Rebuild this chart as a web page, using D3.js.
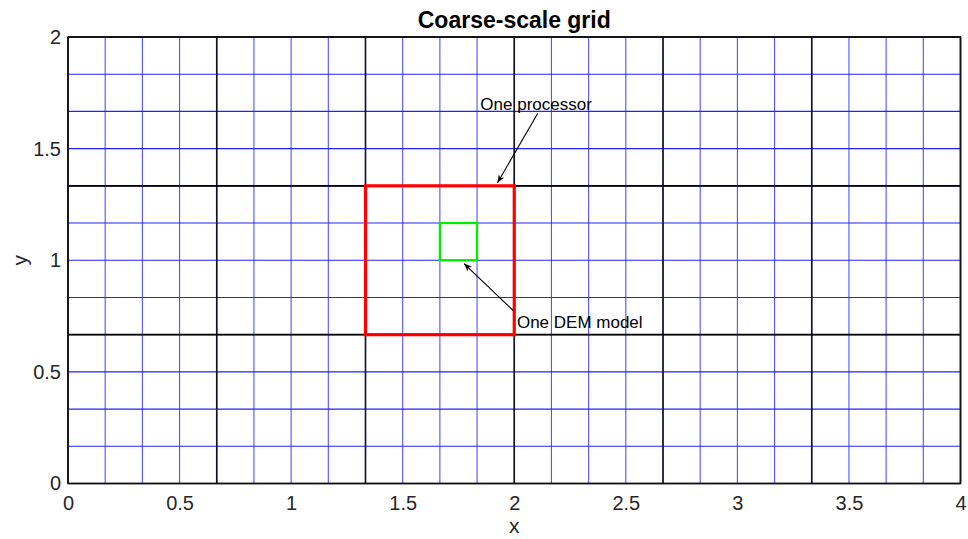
<!DOCTYPE html>
<html>
<head>
<meta charset="utf-8">
<script src="https://cdn.jsdelivr.net/npm/d3@7"></script>
<style>
  body { margin: 0; background: #fff; }
  svg { display: block; font-family: "Liberation Sans", Arial, Helvetica, sans-serif; }
</style>
</head>
<body>
<svg id="chart" width="968" height="539"></svg>
<script>
// Fine (DEM-scale) grid lines
const fineX = [0, 1/6, 2/6, 3/6, 4/6, 5/6, 1, 7/6, 8/6, 9/6, 10/6, 11/6, 2,
               13/6, 14/6, 15/6, 16/6, 17/6, 3, 19/6, 20/6, 21/6, 22/6, 23/6, 4];
const fineY = [0, 1/6, 2/6, 3/6, 4/6, 5/6, 1, 7/6, 8/6, 9/6, 10/6, 11/6, 2];
// Coarse (processor-scale) grid lines
const coarseX = [0, 2/3, 4/3, 2, 8/3, 10/3, 4];
const coarseY = [0, 2/3, 4/3, 2];
// Highlighted cells: [x0, x1, y0, y1]
const processorCell = [4/3, 2, 2/3, 4/3];
const demCell = [10/6, 11/6, 1, 7/6];
// Tick labels
const xTicks = [0, 0.5, 1, 1.5, 2, 2.5, 3, 3.5, 4];
const yTicks = [0, 0.5, 1, 1.5, 2];
// Annotations: label position and arrow from/to, in data units
const annotations = [
  { text: "One processor", tx: 1.848, ty: 1.675, from: [2.105, 1.657], to: [1.925, 1.347] },
  { text: "One DEM model", tx: 2.012, ty: 0.696, from: [1.995, 0.775], to: [1.775, 0.985] }
];

const svg = d3.select("#chart");
const plotLeft = 68, plotRight = 960.5, plotTop = 37, plotBottom = 483.5;
const x = d3.scaleLinear().domain([0, 4]).range([plotLeft, plotRight]);
const y = d3.scaleLinear().domain([0, 2]).range([plotBottom, plotTop]);

const g = svg.append("g");

// fine grid
g.selectAll("line.fx").data(fineX).join("line")
  .attr("x1", d => x(d)).attr("x2", d => x(d))
  .attr("y1", y(0)).attr("y2", y(2))
  .attr("stroke", "#3333ff").attr("stroke-width", 1.1).attr("stroke-opacity", 0.85);
g.selectAll("line.fy").data(fineY).join("line")
  .attr("y1", d => y(d)).attr("y2", d => y(d))
  .attr("x1", x(0)).attr("x2", x(4))
  .attr("stroke", "#2222ff").attr("stroke-width", 1.1);

// coarse grid
g.selectAll("line.cx").data(coarseX).join("line")
  .attr("x1", d => x(d)).attr("x2", d => x(d))
  .attr("y1", y(0)).attr("y2", y(2))
  .attr("stroke", "#111122").attr("stroke-width", 1.6);
g.selectAll("line.cy").data(coarseY).join("line")
  .attr("y1", d => y(d)).attr("y2", d => y(d))
  .attr("x1", x(0)).attr("x2", x(4))
  .attr("stroke", "#000").attr("stroke-width", 1.6);

// processor cell
g.append("rect")
  .attr("x", x(processorCell[0])).attr("y", y(processorCell[3]))
  .attr("width", x(processorCell[1]) - x(processorCell[0]))
  .attr("height", y(processorCell[2]) - y(processorCell[3]))
  .attr("fill", "none").attr("stroke", "#ff0000").attr("stroke-width", 3.2);

// DEM cell
g.append("rect")
  .attr("x", x(demCell[0])).attr("y", y(demCell[3]))
  .attr("width", x(demCell[1]) - x(demCell[0]))
  .attr("height", y(demCell[2]) - y(demCell[3]))
  .attr("fill", "none").attr("stroke", "#00ee00").attr("stroke-width", 2.2);

// axes frame
svg.append("rect")
  .attr("x", plotLeft).attr("y", plotTop)
  .attr("width", plotRight - plotLeft).attr("height", plotBottom - plotTop)
  .attr("fill", "none").attr("stroke", "#111").attr("stroke-width", 1.4);

// tick labels
const xAxis = d3.axisBottom(x).tickValues(xTicks).tickSize(0).tickPadding(12)
  .tickFormat(d3.format("~g"));
const yAxis = d3.axisLeft(y).tickValues(yTicks).tickSize(0).tickPadding(7)
  .tickFormat(d3.format("~g"));
const gx = svg.append("g").attr("transform", `translate(0,${plotBottom})`).call(xAxis);
const gy = svg.append("g").attr("transform", `translate(${plotLeft},0)`).call(yAxis);
[gx, gy].forEach(a => {
  a.select(".domain").remove();
  a.selectAll("text").attr("fill", "#262626").style("font-size", "20px")
    .style("font-family", "'Liberation Sans', Arial, sans-serif");
});

// axis titles
svg.append("text").attr("x", (plotLeft + plotRight) / 2).attr("y", 533)
  .attr("text-anchor", "middle").attr("fill", "#262626").style("font-size", "21px").text("x");
svg.append("text").attr("transform", `translate(27,${(plotTop + plotBottom) / 2}) rotate(-90)`)
  .attr("text-anchor", "middle").attr("fill", "#262626").style("font-size", "21px").text("y");

// title
svg.append("text").attr("x", (plotLeft + plotRight) / 2).attr("y", 28)
  .attr("text-anchor", "middle").attr("fill", "#000").style("font-size", "23px")
  .style("font-weight", "bold").text("Coarse-scale grid");

// arrowhead
svg.append("defs").append("marker")
  .attr("id", "arrow").attr("viewBox", "0 0 10 10").attr("refX", 10).attr("refY", 5)
  .attr("markerWidth", 8).attr("markerHeight", 8).attr("orient", "auto")
  .attr("markerUnits", "userSpaceOnUse")
  .append("path").attr("d", "M0,1 L10,5 L0,9 L3,5 Z").attr("fill", "#000");

// annotations
annotations.forEach(a => {
  svg.append("line")
    .attr("x1", x(a.from[0])).attr("y1", y(a.from[1]))
    .attr("x2", x(a.to[0])).attr("y2", y(a.to[1]))
    .attr("stroke", "#000").attr("stroke-width", 1.1).attr("marker-end", "url(#arrow)");
  svg.append("text").attr("x", x(a.tx)).attr("y", y(a.ty))
    .attr("fill", "#000").style("font-size", "17px").text(a.text);
});
</script>
</body>
</html>
